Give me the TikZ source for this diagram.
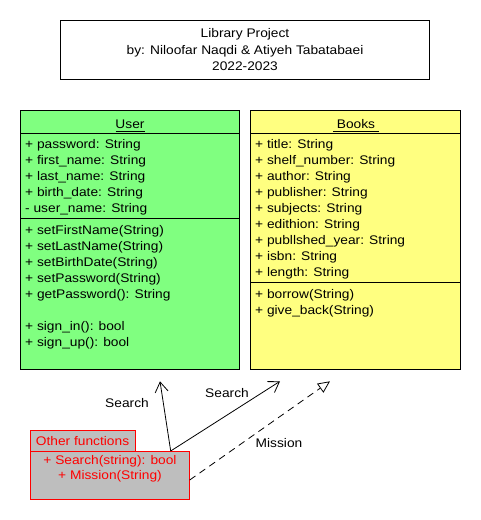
\documentclass[tikz,border=0pt]{standalone}
\usepackage{fontspec}
\setmainfont[FakeStretch=1.1]{Liberation Sans}
\usetikzlibrary{arrows.meta,calc}
\definecolor{umlgreen}{RGB}{128,255,128}
\definecolor{umlyellow}{RGB}{255,255,128}
\definecolor{umlgray}{RGB}{190,190,190}
\definecolor{umlred}{RGB}{255,0,0}
\begin{document}
\begin{tikzpicture}[x=1pt,y=-1pt,
  box/.style={draw=black,line width=1pt,inner sep=0pt,anchor=north west,outer sep=0pt},
  txt/.style={anchor=base west,inner sep=0pt,font=\fontsize{12.5}{15}\selectfont},
  ctxt/.style={anchor=base,inner sep=0pt,font=\fontsize{12.5}{15}\selectfont},
  rtxt/.style={ctxt,text=umlred},
  sepline/.style={draw=black,line width=1pt},
  searcharrow/.style={draw=black,line width=0.8pt,-{Straight Barb[length=10pt,width=13pt,line width=0.8pt]}},
  missionarrow/.style={draw=black,line width=0.8pt,dash pattern=on 7pt off 5pt,-{Triangle[open,length=12pt,width=11pt,line width=0.8pt,fill=white]}}
]
\useasboundingbox (0,0) rectangle (480,520);

% Title
\node[box,minimum width=368.6pt,minimum height=58.3pt] (title) at (60.7,20.7) {};
\node[ctxt] (t1) at (245,37.5) {Library Project};
\node[ctxt] (t2) at (245,54) {by: Niloofar Naqdi \& Atiyeh Tabatabaei};
\node[ctxt] (t3) at (245,70.5) {2022-2023};

% User
\node[box,fill=umlgreen,minimum width=219pt,minimum height=259pt] (user) at (20.3,110.3) {};
\draw[sepline] (20.3,133.3) -- (239.3,133.3);
\draw[sepline] (20.3,218) -- (239.3,218);
\node[ctxt] (ut) at (130,128.3) {User};
\draw[black,line width=0.8pt] (115.7,131) -- (144.7,131);
\node[txt] (u1) at (25,148) {+ password: String};
\node[txt] (u2) at (25,164) {+ first\_name: String};
\node[txt] (u3) at (25,180) {+ last\_name: String};
\node[txt] (u4) at (25,196) {+ birth\_date: String};
\node[txt] (u5) at (25,212) {- user\_name: String};
\node[txt] (m1) at (25,234) {+ setFirstName(String)};
\node[txt] (m2) at (25,250) {+ setLastName(String)};
\node[txt] (m3) at (25,266) {+ setBirthDate(String)};
\node[txt] (m4) at (25,282) {+ setPassword(String)};
\node[txt] (m5) at (25,298) {+ getPassword(): String};
\node[txt] (m6) at (25,330) {+ sign\_in(): bool};
\node[txt] (m7) at (25,346) {+ sign\_up(): bool};

% Books
\node[box,fill=umlyellow,minimum width=210pt,minimum height=259pt] (books) at (250.7,110.3) {};
\draw[sepline] (250.7,133.3) -- (460.7,133.3);
\draw[sepline] (250.7,282.3) -- (460.7,282.3);
\node[ctxt] (bt) at (356,128.3) {Books};
\draw[black,line width=0.8pt] (333,131) -- (379,131);
\node[txt] (b1) at (255,148) {+ title: String};
\node[txt] (b2) at (255,164) {+ shelf\_number: String};
\node[txt] (b3) at (255,180) {+ author: String};
\node[txt] (b4) at (255,196) {+ publisher: String};
\node[txt] (b5) at (255,212) {+ subjects: String};
\node[txt] (b6) at (255,228) {+ edithion: String};
\node[txt] (b7) at (255,244) {+ publlshed\_year: String};
\node[txt] (b8) at (255,260) {+ isbn: String};
\node[txt] (b9) at (255,276) {+ length: String};
\node[txt] (bm1) at (255,298) {+ borrow(String)};
\node[txt] (bm2) at (255,314) {+ give\_back(String)};

% Other functions
\node[box,draw=umlred,fill=umlgray,minimum width=105pt,minimum height=20.7pt] (otab) at (30.3,430.3) {};
\node[box,draw=umlred,fill=umlgray,minimum width=159.4pt,minimum height=48pt] (obody) at (30.3,451) {};
\node[txt,text=umlred] (ot) at (35.7,445.3) {Other functions};
\node[rtxt] (o1) at (110,464.5) {+ Search(string): bool};
\node[rtxt] (o2) at (110,479.5) {+ Mission(String)};

% connectors
\coordinate (s0) at ($(obody.north west)+(140.4,0)$);
\coordinate (m0) at ($(obody.north east)+(0,29)$);
\coordinate (uend) at ($(user.south west)+(139.7,12)$);
\coordinate (bend1) at ($(books.south west)+(29.3,12)$);
\coordinate (bend2) at ($(books.south west)+(79.3,12)$);
\draw[searcharrow] (s0) -- (uend);
\draw[searcharrow] (s0) -- (bend1);
\draw[missionarrow] (m0) -- (bend2);
\node[ctxt] (l1) at (127,407.5) {Search};
\node[ctxt] (l2) at (227,397.5) {Search};
\node[ctxt] (l3) at (279,447.5) {Mission};
\end{tikzpicture}
\end{document}
